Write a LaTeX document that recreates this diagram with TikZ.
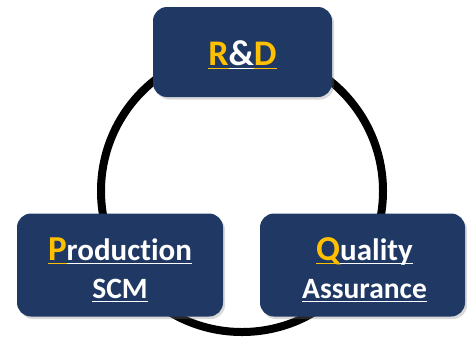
\documentclass[tikz,border=0pt]{standalone}
\usepackage{fontspec}
\setmainfont{Carlito}[Ligatures=NoCommon]
\usetikzlibrary{shadows}
\definecolor{boxblue}{HTML}{1F3864}
\definecolor{keyyellow}{HTML}{FFC000}
% 色付き下線
\newcommand{\ulc}[2]{{\color{#1}\setbox0\hbox{#2}\rlap{\rule[-3.5pt]{\wd0}{1.4pt}}\box0}}

\begin{document}
\begin{tikzpicture}[x=1pt, y=-1pt,
  unit/.style={fill=boxblue, rounded corners=14pt, inner sep=0pt,
    drop shadow={shadow xshift=2pt, shadow yshift=-2.5pt, opacity=0.3}},
  caption/.style={text=white, align=center, inner sep=0pt,
    font=\bfseries\fontsize{31}{38}\selectfont}]
  \useasboundingbox (0,0) rectangle (470,341);

  % リング (黒い太線)
  \draw[line width=8pt] (242,191) circle[radius=141];

  % R&D
  \node[unit, minimum width=179pt, minimum height=90pt] (rd) at (242.5,52) {};
  \node[caption, font=\bfseries\fontsize{36}{38}\selectfont] (rdtext) at ([yshift=-3pt]rd.center)
    {\ulc{keyyellow}{R}\ulc{white}{\&}\ulc{keyyellow}{D}};

  % Production / SCM
  \node[unit, minimum width=206pt, minimum height=103pt] (prod) at (120,265) {};
  \node[caption] (prodtext) at ([yshift=-5pt]prod.center)
    {\ulc{keyyellow}{\fontsize{35}{38}\selectfont P}\ulc{white}{roduction}\\
     \fontsize{29.5}{38}\selectfont\ulc{white}{SCM}};

  % Quality / Assurance
  \node[unit, minimum width=205pt, minimum height=103pt] (qa) at (362.5,265) {};
  \node[caption] (qatext) at ([xshift=2pt, yshift=-5pt]qa.center)
    {\ulc{keyyellow}{\fontsize{35}{38}\selectfont Q}\ulc{white}{uality}\\
     \fontsize{29.5}{38}\selectfont\ulc{white}{Assurance}};
\end{tikzpicture}
\end{document}
